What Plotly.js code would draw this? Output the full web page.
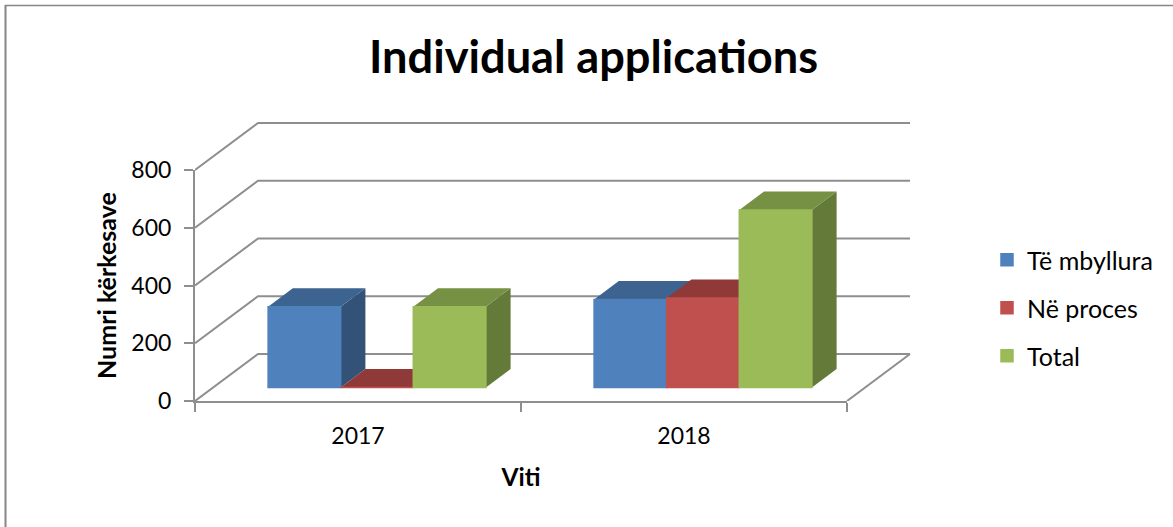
<!DOCTYPE html>
<html>
<head>
<meta charset="utf-8">
<script src="https://cdn.plot.ly/plotly-3.0.1.min.js"></script>
<style>html,body{margin:0;padding:0;background:#fff;overflow:hidden}</style>
</head>
<body>
<div id="chart" style="width:1173px;height:527px"></div>
<script>
// ---- data ----
var categories = ['2017', '2018'];
var seriesNames = ['Të mbyllura', 'Në proces', 'Total'];
var mbyllura = [280, 305];
var neProces = [0, 310];
var total = [280, 615];
var tickValues = [0, 200, 400, 600, 800];

// ---- styling ----
var frontColors = ['#4f81bd', '#c0504d', '#9bbb59'];
var topColors = ['#3d6390', '#8f3938', '#779144'];
var sideColors = ['#335278', '#7a302e', '#647a39'];
var gridColor = '#8e8e8e', axisColor = '#8e8e8e', FONT = 'Lato, Carlito, sans-serif';

// ---- plot frame in px: front plane L..R / T..B, drawing area reaches RW / TW ----
var L = 195, R = 847, RW = 915, TW = 118, T = 170, B = 401, W = 1173, H = 527;
var pxX = (R - L) / 2, pxY = (B - T) / 800;   // px per category, px per value
// oblique "3-D" offsets expressed in data units
var wallDx = 63 / pxX, wallDy = 47 / pxY;
var barDx = 24.7 / pxX, barDy = 18.6 / pxY;
var liftDx = 19 / pxX, liftDy = 13.4 / pxY;
var barW = 72.6 / pxX;

var xRangeFull = [-0.5, -0.5 + (RW - L) / pxX];
var yRangeFull = [0, (B - TW) / pxY];

var series = [mbyllura, neProces, total];
var traces = [];

// keeps the front-plane axes (ticks, labels, titles) on the page
traces.push({type: 'scatter', mode: 'lines', x: [null], y: [null], xaxis: 'x', yaxis: 'y', showlegend: false, hoverinfo: 'skip'});

// wall grid lines and floor
var gx = [], gy = [];
tickValues.forEach(function (v) {
  gx.push(-0.5, -0.5 + wallDx, 1.5 + wallDx, null);
  gy.push(v, v + wallDy, v + wallDy, null);
});
gx.push(1.5, 1.5 + wallDx, null); gy.push(0, wallDy, null);
traces.push({type: 'scatter', mode: 'lines', x: gx, y: gy, xaxis: 'x2', yaxis: 'y2', cliponaxis: false, showlegend: false, hoverinfo: 'skip',
  line: {color: gridColor, width: 2}});

// side and top faces (fronts are drawn on the overlay axes so they sit above them)
series.forEach(function (vals, s) {
  var sx = [], sy = [], tx = [], ty = [];
  vals.forEach(function (v, c) {
    var x0 = c + liftDx + (s - 1.5) * barW, x1 = x0 + barW, y0 = liftDy, y1 = liftDy + v;
    sx.push(x1, x1 + barDx, x1 + barDx, x1, x1, null);
    sy.push(y0, y0 + barDy, y1 + barDy, y1, y0, null);
    tx.push(x0, x1, x1 + barDx, x0 + barDx, x0, null);
    ty.push(y1, y1, y1 + barDy, y1 + barDy, y1, null);
  });
  traces.push({type: 'scatter', mode: 'lines', x: sx, y: sy, xaxis: 'x2', yaxis: 'y2', fill: 'toself', fillcolor: sideColors[s],
    line: {width: 0, color: sideColors[s]}, cliponaxis: false, showlegend: false, hoverinfo: 'skip'});
  traces.push({type: 'scatter', mode: 'lines', x: tx, y: ty, xaxis: 'x2', yaxis: 'y2', fill: 'toself', fillcolor: topColors[s],
    line: {width: 0, color: topColors[s]}, cliponaxis: false, showlegend: false, hoverinfo: 'skip'});
});

// front faces: real bars
series.forEach(function (vals, s) {
  traces.push({type: 'bar', name: seriesNames[s], legendgroup: seriesNames[s], xaxis: 'x3', yaxis: 'y3',
    x: vals.map(function (v, c) { return c + liftDx + (s - 1) * barW; }),
    y: vals, base: vals.map(function () { return liftDy; }), width: barW,
    marker: {color: frontColors[s], line: {color: frontColors[s], width: 1.5}}, cliponaxis: false});
});

var px2x = function (p) { return (p - L) / (RW - L); };
var px2y = function (p) { return (B - p) / (B - TW); };

var layout = {
  width: W, height: H, autosize: false,
  paper_bgcolor: '#fff', plot_bgcolor: 'rgba(0,0,0,0)',
  margin: {l: L, r: W - RW, t: TW, b: H - B, pad: 0},
  font: {family: FONT, color: '#000', size: 23},
  barmode: 'overlay',
  showlegend: true,
  title: {text: '<b>Individual applications</b>', font: {family: FONT, size: 45.2, color: '#000'},
    x: 593.5 / W, xref: 'container', xanchor: 'center', y: 1 - 57 / H, yref: 'container', yanchor: 'middle'},
  xaxis: {domain: [0, px2x(R)], range: [-0.5, 1.5], tickmode: 'array', tickvals: [0, 1], ticktext: categories, ticks: '',
    showgrid: false, zeroline: false, showline: true, linecolor: axisColor, linewidth: 2,
    tickfont: {family: FONT, size: 23}, ticklabelstandoff: 13,
    minor: {tickmode: 'array', tickvals: [-0.5, 0.5, 1.5], ticks: 'outside', ticklen: 9, tickwidth: 2, tickcolor: axisColor, showgrid: false},
    title: {text: '<b>Viti</b>', font: {family: FONT, size: 24.5}, standoff: 21}},
  yaxis: {domain: [0, px2y(T)], range: [0, 800], tickmode: 'array', tickvals: tickValues, ticks: 'outside', ticklen: 9, tickwidth: 2, tickcolor: axisColor,
    showgrid: false, zeroline: false, showline: true, linecolor: axisColor, linewidth: 2,
    tickfont: {family: FONT, size: 23}, ticklabelstandoff: 8,
    title: {text: '<b>Numri kërkesave</b>', font: {family: FONT, size: 25}, standoff: 8}},
  xaxis2: {domain: [0, 1], range: xRangeFull, visible: false, anchor: 'y2'},
  yaxis2: {domain: [0, 1], range: yRangeFull, visible: false, anchor: 'x2'},
  xaxis3: {overlaying: 'x2', range: xRangeFull, visible: false, anchor: 'y3'},
  yaxis3: {overlaying: 'y2', range: yRangeFull, visible: false, anchor: 'x3'},
  legend: {x: px2x(987), xanchor: 'left', y: px2y(237), yanchor: 'top', traceorder: 'grouped', tracegroupgap: 12.5,
    font: {family: FONT, size: 25}, bgcolor: 'rgba(0,0,0,0)', itemclick: false, itemdoubleclick: false},
  shapes: [
    {type: 'line', xref: 'paper', yref: 'paper', x0: px2x(5.5), x1: px2x(5.5), y0: px2y(5), y1: px2y(527), line: {color: '#868686', width: 2}},
    {type: 'line', xref: 'paper', yref: 'paper', x0: px2x(5), x1: px2x(1173), y0: px2y(5.5), y1: px2y(5.5), line: {color: '#868686', width: 1.5}}
  ]
};
Plotly.newPlot('chart', traces, layout, {displayModeBar: false, responsive: false});
</script>
</body>
</html>
